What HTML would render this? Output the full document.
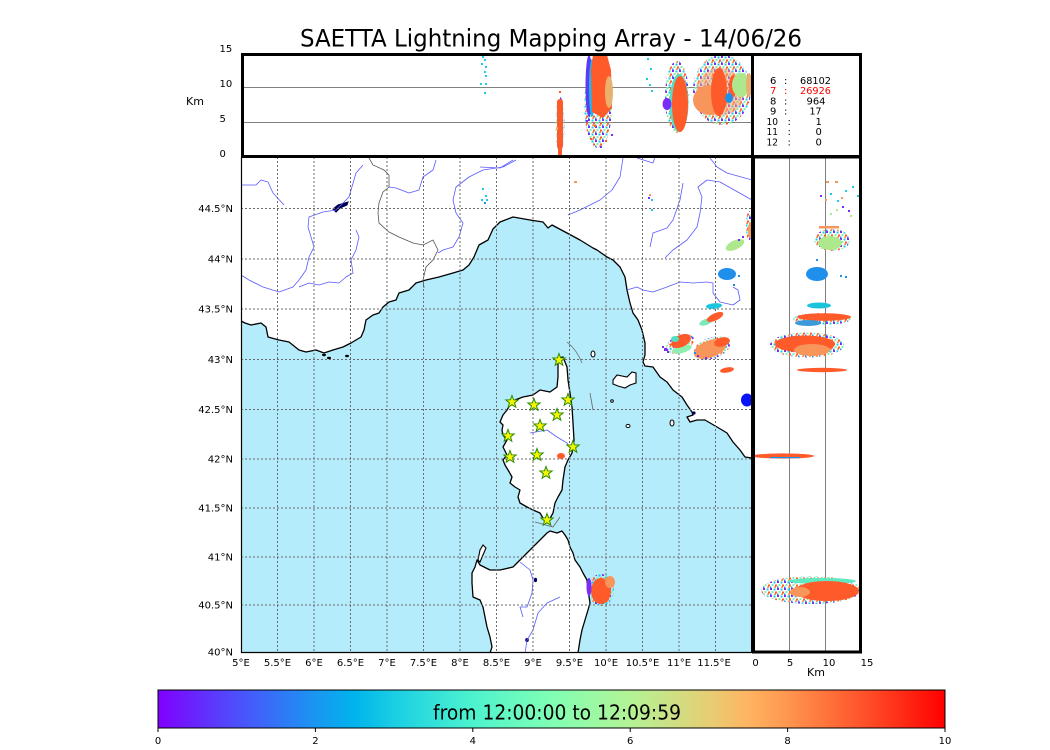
<!DOCTYPE html>
<html><head><meta charset="utf-8"><style>
html,body{margin:0;padding:0;background:#fff;}
svg{display:block;}
text{font-family:"DejaVu Sans","Liberation Sans",sans-serif;fill:#000;}
</style></head><body>
<svg width="1050" height="750" viewBox="0 0 1050 750" xmlns="http://www.w3.org/2000/svg">
<defs>
<linearGradient id="cb" x1="0" x2="1" y1="0" y2="0">
<stop offset="0" stop-color="#8000ff"/><stop offset="0.1" stop-color="#4d4ffc"/><stop offset="0.2" stop-color="#1a96f2"/><stop offset="0.25" stop-color="#00b4ec"/><stop offset="0.3" stop-color="#1acee3"/><stop offset="0.4" stop-color="#4df3ce"/><stop offset="0.5" stop-color="#80ffb4"/><stop offset="0.6" stop-color="#b3f396"/><stop offset="0.7" stop-color="#e6ce74"/><stop offset="0.75" stop-color="#ffb462"/><stop offset="0.8" stop-color="#ff964f"/><stop offset="0.9" stop-color="#ff4f28"/><stop offset="1" stop-color="#ff0000"/>
</linearGradient>
<pattern id="mix" width="7" height="7" patternUnits="userSpaceOnUse">
<rect x="0" y="0" width="2" height="2" fill="#7b2cf8"/><rect x="3.5" y="0.5" width="2" height="2" fill="#1acde3"/><rect x="5" y="3.5" width="2" height="2" fill="#ff5a2a"/><rect x="1.5" y="3" width="2" height="2" fill="#80f0b0"/><rect x="4" y="5.5" width="2" height="1.5" fill="#f8955a"/><rect x="0" y="5.5" width="1.5" height="1.5" fill="#1e90ec"/>
</pattern>
<clipPath id="cTop"><rect x="242" y="55" width="509" height="101"/></clipPath>
<clipPath id="cMap"><rect x="241" y="157" width="511" height="496"/></clipPath>
<clipPath id="cRight"><rect x="753" y="158" width="108" height="494"/></clipPath>
<path id="star" d="M0,-6.5 L1.59,-2.18 L6.18,-2.01 L2.57,0.83 L3.82,5.26 L0,2.7 L-3.82,5.26 L-2.57,0.83 L-6.18,-2.01 L-1.59,-2.18 Z" fill="#f5f500" stroke="#2a8a00" stroke-width="1"/>
</defs>

<!-- Title -->
<text x="300" y="46.5" font-size="24" textLength="502" lengthAdjust="spacingAndGlyphs">SAETTA Lightning Mapping Array - 14/06/26</text>

<!-- ===== MAP ===== -->
<g clip-path="url(#cMap)">
<rect x="241" y="157" width="511" height="496" fill="#fff"/>
<path fill="#b5ecfb" stroke="#000" stroke-width="1.3" stroke-linejoin="round" d="M241,321 L245,323 L251,325 L261,323 L266,327 L268,337 L279,340 L289,342 L299,350 L306,352 L316,350 L324,353 L333,350 L343,347 L351,343 L361,337 L364,330 L366,320 L373,315 L379,313 L383,307 L389,302 L396,300 L399,293 L409,290 L416,283 L426,280 L439,277 L453,273 L463,270 L469,265 L474,257 L479,245 L488,240 L493,229 L500,222 L513,217 L530,220 L543,222 L548,228 L552,225 L567,233 L580,240 L593,248 L597,250 L607,257 L613,260 L620,267 L625,277 L627,290 L630,303 L633,313 L638,320 L642,330 L645,343 L645,355 L643,362 L645,366 L653,367 L660,377 L667,382 L673,390 L682,397 L687,405 L692,412 L693,415 L687,417 L690,422 L697,420 L705,420 L717,427 L727,433 L733,442 L740,450 L745,457 L752,458 L760,458 L760,660 L235,660 L235,321 Z"/>
<path fill="#fff" stroke="#000" stroke-width="1.3" stroke-linejoin="round" d="M558,358 L563,357 L567,367 L568,380 L570,393 L572,407 L573,423 L574,440 L572,453 L568,460 L565,467 L563,480 L562,490 L558,497 L555,503 L553,513 L548,522 L543,518 L540,513 L533,510 L527,507 L520,503 L518,497 L520,490 L515,487 L510,483 L512,477 L508,470 L505,465 L503,460 L507,455 L503,447 L507,440 L503,435 L502,430 L503,425 L500,422 L503,415 L507,410 L510,405 L515,400 L523,397 L533,395 L540,390 L550,392 L557,387 L558,377 L558,367 Z"/>
<path fill="#fff" stroke="#000" stroke-width="1.3" stroke-linejoin="round" d="M547,533 L550,531 L557,533 L562,531 L565,535 L568,540 L570,547 L573,553 L575,560 L580,567 L583,573 L587,580 L588,590 L590,603 L588,610 L585,620 L582,630 L580,640 L578,653 L578,660 L490,660 L490,653 L492,647 L490,637 L487,627 L485,617 L483,607 L480,600 L473,597 L472,583 L472,573 L475,567 L477,560 L480,565 L490,570 L500,570 L513,567 L520,560 L527,553 L533,547 L540,540 Z"/>
<path fill="#fff" stroke="#000" stroke-width="1.1" d="M478,560 L480,550 L483,545 L486,548 L483,555 L480,562 Z"/>
<path fill="#fff" stroke="#000" stroke-width="1.1" d="M613,380 L617,375 L627,377 L632,372 L636,373 L636,383 L630,385 L625,388 L618,386 L613,384 Z"/>
<ellipse cx="593" cy="354" rx="2" ry="3" fill="#fff" stroke="#000" stroke-width="1"/>
<ellipse cx="628" cy="426" rx="2" ry="1.6" fill="#fff" stroke="#000" stroke-width="1"/>
<ellipse cx="672" cy="423" rx="2" ry="3" fill="#fff" stroke="#000" stroke-width="1"/>
<ellipse cx="612" cy="401" rx="1.3" ry="1.3" fill="#fff" stroke="#000" stroke-width="1"/>
<ellipse cx="324" cy="355" rx="2" ry="1.2" fill="#000"/>
<ellipse cx="329" cy="358" rx="2" ry="1.2" fill="#000"/>
<ellipse cx="347" cy="356" rx="2" ry="1.2" fill="#000"/>
<path d="M333,209 L338,205 L348,202 L347,205 L340,208 L336,212 Z" fill="#000050" stroke="#000050" stroke-width="1"/>
<ellipse cx="535.5" cy="580" rx="1.6" ry="2.2" fill="#000060"/>
<ellipse cx="527" cy="640" rx="1.8" ry="2" fill="#000060"/>
<ellipse cx="694" cy="413" rx="1.6" ry="1.6" fill="#000060"/>
<g fill="none" stroke="#5a5aff" stroke-width="0.8" stroke-linejoin="round">
<polyline points="363,165 356,173 349,197 343,203 336,210 323,212 309,217 308,227 311,237 314,247 309,257 306,270 299,280 293,287 279,292 263,287 249,280 241,275"/>
<polyline points="356,230 359,237 356,250 351,260 353,273 346,277 339,283 329,282 319,285 309,283 299,287"/>
<polyline points="241,185 256,185 261,180 268,182 273,193 284,205"/>
<polyline points="436,160 433,170 423,177 419,190 409,193 396,188 389,187"/>
<polyline points="516,160 503,167 483,170 469,177 456,187 453,200 456,213 463,223 459,237 453,247 443,250 438,253"/>
<polyline points="480,167 500,168 513,160"/>
<polyline points="623,158 620,177 612,190 600,200 580,210 568,215"/>
<polyline points="637,158 653,163 655,157"/>
<polyline points="710,158 717,167 727,173 752,180"/>
<polyline points="752,200 720,182 707,180 698,187 702,197 700,213 697,227 687,240 673,250 665,258"/>
<polyline points="683,183 680,200 673,220 667,228 653,233 650,247"/>
<polyline points="627,290 637,287 643,290 653,292 667,287 680,282 693,283 707,282 713,283 713,293 720,302 733,305 740,300 738,290 733,287"/>
<polyline points="530,433 547,430 557,437 567,443 570,448"/>
<polyline points="520,562 530,570 533,580 532,593 527,607 520,607 523,617"/>
<polyline points="560,597 547,603 538,613 533,630 527,640 525,653"/>
</g>
<polyline fill="none" stroke="#555" stroke-width="0.8" points="369,158 373,165 384,170 389,175 389,187 383,192 379,203 378,213 379,223 389,232 399,237 413,243 423,245 433,240 438,250 433,260 426,267 423,280 424,288"/>
<g fill="none" stroke="#666" stroke-width="0.8">
<path d="M567,342 Q577,350 582,363"/>
<path d="M590,393 L593,410"/>
<path d="M535,522 L553,527 L560,517"/>
</g>
<g stroke="#6a6a6a" stroke-width="1" stroke-dasharray="2 2" fill="none">
<line x1="241" x2="752" y1="208.5" y2="208.5"/><line x1="241" x2="752" y1="259" y2="259"/><line x1="241" x2="752" y1="309" y2="309"/><line x1="241" x2="752" y1="359.5" y2="359.5"/><line x1="241" x2="752" y1="409.5" y2="409.5"/><line x1="241" x2="752" y1="459" y2="459"/><line x1="241" x2="752" y1="508" y2="508"/><line x1="241" x2="752" y1="557" y2="557"/><line x1="241" x2="752" y1="605" y2="605"/>
<line y1="157" y2="653" x1="277.5" x2="277.5"/><line y1="157" y2="653" x1="314" x2="314"/><line y1="157" y2="653" x1="350.5" x2="350.5"/><line y1="157" y2="653" x1="387" x2="387"/><line y1="157" y2="653" x1="423.5" x2="423.5"/><line y1="157" y2="653" x1="460" x2="460"/><line y1="157" y2="653" x1="496.5" x2="496.5"/><line y1="157" y2="653" x1="533" x2="533"/><line y1="157" y2="653" x1="569.5" x2="569.5"/><line y1="157" y2="653" x1="606" x2="606"/><line y1="157" y2="653" x1="642.5" x2="642.5"/><line y1="157" y2="653" x1="679" x2="679"/><line y1="157" y2="653" x1="715.5" x2="715.5"/>
</g>
<g>
<ellipse cx="680" cy="344" rx="15" ry="8.5" transform="rotate(-25 680 344)" fill="url(#mix)"/>
<ellipse cx="682" cy="349" rx="10" ry="4" transform="rotate(-15 682 349)" fill="#8ef0b0"/>
<ellipse cx="681" cy="341" rx="10.5" ry="6" transform="rotate(-25 681 341)" fill="#ff5a2a"/>
<ellipse cx="675" cy="339" rx="4" ry="3" fill="#50e0c0"/>
<rect x="664" y="348" width="3" height="3" fill="#7b2cf8"/><rect x="667" y="351" width="2" height="2" fill="#7b2cf8"/><rect x="662" y="346" width="2" height="2" fill="#7b2cf8"/>
<ellipse cx="712" cy="348" rx="19" ry="10.5" transform="rotate(-18 712 348)" fill="url(#mix)"/>
<ellipse cx="710" cy="349" rx="17" ry="8.5" transform="rotate(-20 710 349)" fill="#f8955a"/>
<ellipse cx="722" cy="342" rx="8" ry="4.5" transform="rotate(-15 722 342)" fill="#ff5a2a"/>
<rect x="697" y="355" width="2" height="2" fill="#7b2cf8"/><rect x="705" y="357" width="2" height="2" fill="#7b2cf8"/><rect x="694" y="352" width="2" height="2" fill="#1e90ec"/>
<ellipse cx="706" cy="322" rx="7" ry="3" transform="rotate(-20 706 322)" fill="#7de8b8"/>
<ellipse cx="715" cy="317" rx="9" ry="3.6" transform="rotate(-25 715 317)" fill="#ff5a2a"/>
<ellipse cx="714" cy="306" rx="8" ry="2.8" transform="rotate(-5 714 306)" fill="#1ac5e0"/>
<ellipse cx="727" cy="274" rx="9" ry="6" fill="#1e90ec"/>
<rect x="738" y="275" width="2" height="2" fill="#1e90ec"/><rect x="733" y="284" width="2" height="2" fill="#1e90ec"/>
<ellipse cx="735" cy="245" rx="10" ry="4.5" transform="rotate(-25 735 245)" fill="#aee88c"/>
<rect x="742" y="236" width="2" height="2" fill="#7b2cf8"/><rect x="738" y="239" width="2" height="2" fill="#7b2cf8"/>
<ellipse cx="749" cy="226" rx="3" ry="15" fill="url(#mix)"/>
<ellipse cx="750" cy="230" rx="2" ry="8" fill="#f0a060"/>
<ellipse cx="727" cy="370" rx="7" ry="2.6" transform="rotate(-10 727 370)" fill="#ff5a2a"/>
<ellipse cx="747" cy="400" rx="6" ry="6.5" fill="#0814f8"/>
<ellipse cx="561" cy="456" rx="4" ry="3" fill="#ff5a2a"/>
<ellipse cx="601" cy="590" rx="13" ry="16" fill="url(#mix)"/>
<ellipse cx="601" cy="591" rx="10" ry="13" fill="#ff5a2a"/>
<ellipse cx="610" cy="582" rx="5" ry="6" fill="#f8955a"/>
<ellipse cx="589" cy="587" rx="2.5" ry="9" fill="#7b2cf8"/>
<rect x="482" y="188" width="2" height="2" fill="#1acde3"/><rect x="485" y="195" width="2" height="2" fill="#1acde3"/><rect x="481" y="199" width="2" height="2" fill="#1acde3"/><rect x="484" y="202" width="2" height="2" fill="#1e90ec"/><rect x="486" y="199" width="2" height="2" fill="#1acde3"/>
<rect x="574" y="181" width="3" height="2" fill="#f8955a"/><rect x="649" y="194" width="2" height="2" fill="#f8955a"/><rect x="648" y="197" width="2" height="2" fill="#7b2cf8"/><rect x="651" y="199" width="2" height="2" fill="#1acde3"/><rect x="651" y="209" width="2" height="2" fill="#1acde3"/>
</g>
<use href="#star" x="559" y="360"/><use href="#star" x="512" y="402"/><use href="#star" x="534" y="405"/><use href="#star" x="568" y="400"/><use href="#star" x="557" y="415"/><use href="#star" x="540" y="426"/><use href="#star" x="508" y="436"/><use href="#star" x="573" y="447"/><use href="#star" x="510" y="457"/><use href="#star" x="537" y="455"/><use href="#star" x="546" y="473"/><use href="#star" x="547" y="520"/>
</g>
<line x1="241.5" y1="157" x2="241.5" y2="653" stroke="#000" stroke-width="1.2"/>
<line x1="241" y1="652.5" x2="752" y2="652.5" stroke="#000" stroke-width="1.2"/>

<!-- ===== TOP PANEL ===== -->
<rect x="241" y="54" width="621" height="103" fill="#fff"/>
<line x1="241" x2="752" y1="87.5" y2="87.5" stroke="#808080" stroke-width="1"/>
<line x1="241" x2="752" y1="122.5" y2="122.5" stroke="#808080" stroke-width="1"/>
<g clip-path="url(#cTop)">
<g fill="#1acde3"><rect x="482" y="56" width="2" height="2"/><rect x="484" y="59" width="2" height="2"/><rect x="481" y="63" width="2" height="2"/><rect x="485" y="66" width="2" height="2"/><rect x="484" y="71" width="2" height="2"/><rect x="485" y="75" width="2" height="2"/><rect x="480" y="83" width="2" height="2"/><rect x="485" y="83" width="2" height="2"/><rect x="484" y="92" width="2" height="2"/></g>
<ellipse cx="560" cy="125" rx="4.5" ry="28" fill="url(#mix)"/>
<rect x="557" y="99" width="6" height="50" rx="3" fill="#ff5a2a"/>
<rect x="558" y="148" width="4" height="9" fill="#ff5a2a"/>
<rect x="559" y="91" width="2" height="2" fill="#ff5a2a"/><rect x="556" y="127" width="2" height="3" fill="#e8b070"/>
<ellipse cx="598" cy="106" rx="14" ry="42" fill="url(#mix)"/>
<ellipse cx="589" cy="86" rx="3.5" ry="31" fill="#5a3cf5"/>
<ellipse cx="592" cy="88" rx="3" ry="29" fill="#1ab8e8"/>
<path d="M593,55 L607,55 L611,70 L612,108 L603,118 L592,112 L591,70 Z" fill="#ff5a2a"/>
<ellipse cx="609" cy="92" rx="4" ry="16" fill="#eab070"/>
<g fill="#7b2cf8"><rect x="586" y="120" width="2" height="2"/><rect x="600" y="146" width="2" height="2"/><rect x="611" y="134" width="2" height="2"/></g>
<g fill="#ff5a2a"><rect x="594" y="125" width="2" height="2"/><rect x="605" y="140" width="2" height="2"/><rect x="590" y="138" width="2" height="2"/></g>
<g fill="#1acde3"><rect x="647" y="58" width="2" height="2"/><rect x="650" y="68" width="2" height="2"/><rect x="646" y="78" width="2" height="2"/><rect x="649" y="84" width="2" height="2"/><rect x="651" y="90" width="2" height="2"/></g>
<ellipse cx="677" cy="97" rx="12" ry="36" fill="url(#mix)"/>
<ellipse cx="679" cy="103" rx="9.5" ry="29" fill="#50e0c0"/>
<ellipse cx="680" cy="104" rx="8" ry="28" fill="#ff5a2a"/>
<ellipse cx="667" cy="104" rx="4.5" ry="6" fill="#7b2cf8"/>
<ellipse cx="722" cy="90" rx="29" ry="35" fill="url(#mix)"/>
<ellipse cx="720" cy="92" rx="24" ry="24" fill="#f8a070" opacity="0.55"/>
<ellipse cx="710" cy="100" rx="17" ry="15" fill="#f8955a"/>
<ellipse cx="719" cy="92" rx="8" ry="24" fill="#ff5a2a"/>
<ellipse cx="733" cy="86" rx="4" ry="11" fill="#ff5a2a"/>
<ellipse cx="741" cy="85" rx="9" ry="12" fill="#aee88c"/>
<ellipse cx="729" cy="98" rx="4" ry="5" fill="#1e90ec"/>
<ellipse cx="749" cy="85" rx="3" ry="12" fill="#e8b070"/>
</g>
<rect x="242.5" y="54.5" width="618" height="102" fill="none" stroke="#000" stroke-width="3"/>
<line x1="752.5" y1="54" x2="752.5" y2="157" stroke="#000" stroke-width="3"/>
<g font-size="10">
<text x="219.5" y="52">15</text><text x="219.5" y="87">10</text><text x="219.5" y="122">5</text><text x="219.5" y="157">0</text>
</g>
<text x="186" y="105" font-size="11">Km</text>
<g font-size="10">
<text x="770" y="84">6</text><text x="784" y="84">:</text><text x="800" y="84" textLength="31" lengthAdjust="spacingAndGlyphs">68102</text>
<text x="770" y="94" style="fill:#ff0000">7</text><text x="784" y="94" style="fill:#ff0000">:</text><text x="800" y="94" textLength="31" lengthAdjust="spacingAndGlyphs" style="fill:#ff0000">26926</text>
<text x="770" y="104.5">8</text><text x="784" y="104.5">:</text><text x="806.5" y="104.5" textLength="19" lengthAdjust="spacingAndGlyphs">964</text>
<text x="770" y="114.5">9</text><text x="784" y="114.5">:</text><text x="809.5" y="114.5" textLength="12" lengthAdjust="spacingAndGlyphs">17</text>
<text x="766.5" y="125" textLength="11.5" lengthAdjust="spacingAndGlyphs">10</text><text x="787.5" y="125">:</text><text x="815.5" y="125">1</text>
<text x="766.5" y="135" textLength="11.5" lengthAdjust="spacingAndGlyphs">11</text><text x="787.5" y="135">:</text><text x="815.5" y="135">0</text>
<text x="766.5" y="145.5" textLength="11.5" lengthAdjust="spacingAndGlyphs">12</text><text x="787.5" y="145.5">:</text><text x="815.5" y="145.5">0</text>
</g>

<!-- ===== RIGHT PANEL ===== -->
<rect x="752" y="157" width="110" height="496" fill="#fff"/>
<line x1="789.5" x2="789.5" y1="157" y2="653" stroke="#808080" stroke-width="1"/>
<line x1="825.5" x2="825.5" y1="157" y2="653" stroke="#808080" stroke-width="1"/>
<g clip-path="url(#cRight)">
<g fill="#1acde3"><rect x="845" y="190" width="2" height="2"/><rect x="852" y="186" width="2" height="2"/><rect x="857" y="195" width="2" height="2"/><rect x="837" y="200" width="2" height="2"/><rect x="830" y="193" width="2" height="2"/></g>
<g fill="#f8955a"><rect x="826" y="181" width="3" height="2"/><rect x="835" y="181" width="3" height="2"/><rect x="841" y="197" width="2" height="2"/><rect x="825" y="199" width="2" height="2"/></g>
<g fill="#7b2cf8"><rect x="820" y="195" width="2" height="2"/><rect x="842" y="206" width="2" height="2"/><rect x="848" y="210" width="2" height="2"/></g>
<g fill="#aee88c"><rect x="836" y="209" width="2" height="2"/><rect x="830" y="213" width="2" height="2"/><rect x="850" y="215" width="2" height="2"/></g>
<ellipse cx="832" cy="240" rx="18" ry="11" fill="url(#mix)"/>
<ellipse cx="830" cy="243" rx="12" ry="7" fill="#aee88c"/>
<rect x="819" y="226" width="20" height="2.5" fill="#f8955a"/>
<ellipse cx="817" cy="274" rx="11" ry="7" fill="#1e90ec"/>
<rect x="840" y="275" width="2" height="2" fill="#1e90ec"/><rect x="845" y="276" width="2" height="2" fill="#1e90ec"/><rect x="816" y="259" width="2" height="2" fill="#1e90ec"/>
<ellipse cx="819" cy="305.5" rx="12" ry="3" fill="#1ac5dc"/>
<ellipse cx="822" cy="319" rx="29" ry="6" fill="url(#mix)"/>
<ellipse cx="824" cy="317" rx="27" ry="3.8" fill="#ff5a2a"/>
<ellipse cx="808" cy="323" rx="13" ry="3" fill="#3c9ad8"/>
<ellipse cx="807" cy="345" rx="37" ry="12.5" fill="url(#mix)"/>
<ellipse cx="805" cy="344" rx="30" ry="8.5" fill="#ff5a2a"/>
<ellipse cx="812" cy="350" rx="18" ry="6" fill="#f8955a"/>
<ellipse cx="822" cy="370" rx="25" ry="2.2" fill="#ff5a2a"/>
<ellipse cx="783" cy="456" rx="31" ry="2.6" fill="#ff5a2a"/>
<rect x="770" y="457" width="30" height="1.2" fill="#1e90ec"/>
<ellipse cx="811" cy="590" rx="50" ry="14" fill="url(#mix)"/>
<ellipse cx="822" cy="581" rx="34" ry="3" fill="#60e8c0"/>
<ellipse cx="827" cy="591" rx="32" ry="10" fill="#ff5a2a"/>
<ellipse cx="800" cy="592" rx="10" ry="5" fill="#f8955a"/>
<ellipse cx="747" cy="400" rx="6" ry="6.5" fill="#0814f8"/>
</g>
<rect x="753.5" y="157" width="107" height="495" fill="none" stroke="#000" stroke-width="3"/>
<line x1="752.5" y1="155" x2="752.5" y2="653" stroke="#000" stroke-width="3"/>
<line x1="241" y1="156.5" x2="862" y2="156.5" stroke="#000" stroke-width="3"/>

<g font-size="10" text-anchor="end">
<text x="233" y="212">44.5°N</text><text x="233" y="262.5">44°N</text><text x="233" y="312.5">43.5°N</text><text x="233" y="363">43°N</text><text x="233" y="413">42.5°N</text><text x="233" y="462.5">42°N</text><text x="233" y="511.5">41.5°N</text><text x="233" y="560.5">41°N</text><text x="233" y="608.5">40.5°N</text><text x="233" y="655.5">40°N</text>
</g>
<g font-size="10" text-anchor="middle">
<text x="241" y="666">5°E</text><text x="277.5" y="666">5.5°E</text><text x="314" y="666">6°E</text><text x="350.5" y="666">6.5°E</text><text x="387" y="666">7°E</text><text x="423.5" y="666">7.5°E</text><text x="460" y="666">8°E</text><text x="496.5" y="666">8.5°E</text><text x="533" y="666">9°E</text><text x="569.5" y="666">9.5°E</text><text x="606" y="666">10°E</text><text x="642.5" y="666">10.5°E</text><text x="679" y="666">11°E</text><text x="714" y="666">11.5°E</text>
<text x="755.5" y="666">0</text><text x="790" y="666">5</text><text x="829" y="666">10</text><text x="867" y="666">15</text>
</g>
<text x="816" y="676" font-size="11" text-anchor="middle">Km</text>

<!-- ===== COLORBAR ===== -->
<rect x="158" y="690" width="787" height="38" fill="url(#cb)" stroke="#000" stroke-width="1"/>
<text x="433" y="719.5" font-size="20" textLength="248" lengthAdjust="spacingAndGlyphs">from 12:00:00 to 12:09:59</text>
<g stroke="#000" stroke-width="1">
<line x1="158" x2="158" y1="728" y2="732"/><line x1="315.4" x2="315.4" y1="728" y2="732"/><line x1="472.8" x2="472.8" y1="728" y2="732"/><line x1="630.2" x2="630.2" y1="728" y2="732"/><line x1="787.6" x2="787.6" y1="728" y2="732"/><line x1="945" x2="945" y1="728" y2="732"/>
</g>
<g font-size="10" text-anchor="middle">
<text x="158" y="744">0</text><text x="315.4" y="744">2</text><text x="472.8" y="744">4</text><text x="630.2" y="744">6</text><text x="787.6" y="744">8</text><text x="945" y="744">10</text>
</g>
</svg>
</body></html>
